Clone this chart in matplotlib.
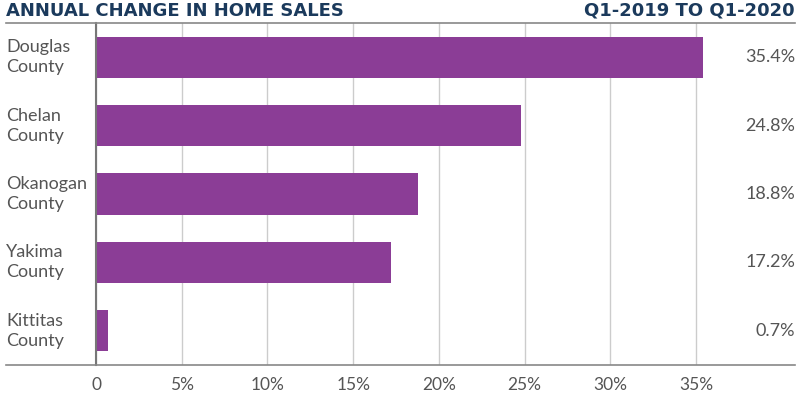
import matplotlib.pyplot as plt
from matplotlib.lines import Line2D
from matplotlib.transforms import blended_transform_factory

counties = ['Douglas\nCounty', 'Chelan\nCounty', 'Okanogan\nCounty', 'Yakima\nCounty', 'Kittitas\nCounty']
changes = [35.4, 24.8, 18.8, 17.2, 0.7]
value_labels = ['35.4%', '24.8%', '18.8%', '17.2%', '0.7%']
ticks = [0, 5, 10, 15, 20, 25, 30, 35]
tick_labels = ['0', '5%', '10%', '15%', '20%', '25%', '30%', '35%']

purple = '#8B3D96'
navy = '#1B3A5C'
grey_text = '#555555'

plt.rcParams['font.family'] = ['Lato', 'DejaVu Sans']

W, H = 800, 407
fig = plt.figure(figsize=(8, 4.07), dpi=100)
ax = fig.add_axes([96 / W, 1 - 365 / H, (795 - 96) / W, (365 - 23) / H])

y = range(len(counties))
ax.barh(y, changes, height=0.6, color=purple, zorder=3)
ax.set_ylim(len(counties) - 0.5, -0.5)
ax.set_xlim(0, (795 - 96) / (600 / 35))

ax.set_xticks(ticks)
ax.set_xticklabels(tick_labels, fontsize=12.5, color=grey_text)
ax.set_yticks([])
ax.tick_params(axis='x', length=0, pad=9)
ax.grid(axis='x', color='#cccccc', linewidth=1, zorder=0)
for s in ['top', 'right', 'bottom']:
    ax.spines[s].set_visible(False)
ax.spines['left'].set_color('#777777')
ax.spines['left'].set_linewidth(1.5)
ax.spines['left'].set_zorder(4)

tr = blended_transform_factory(fig.transFigure, ax.transData)
for i, (name, lab) in enumerate(zip(counties, value_labels)):
    ax.text(6 / W, i, name, transform=tr, ha='left', va='center',
            fontsize=13, color=grey_text, linespacing=1.3)
    ax.text(795 / W, i, lab, transform=tr, ha='right', va='center',
            fontsize=13, color=grey_text)

# top and bottom rules spanning the full width
for yy in [23, 365]:
    fig.add_artist(Line2D([6 / W, 795 / W], [1 - yy / H, 1 - yy / H], color='#888888', linewidth=1.2))

fig.text(6 / W, 1 - 11 / H, 'ANNUAL CHANGE IN HOME SALES', ha='left', va='center',
         fontsize=13, fontweight='bold', color=navy, family='DejaVu Sans')
fig.text(795 / W, 1 - 11 / H, 'Q1-2019 TO Q1-2020', ha='right', va='center',
         fontsize=13, fontweight='bold', color=navy, family='DejaVu Sans')

fig.savefig('out.png', dpi=100)
